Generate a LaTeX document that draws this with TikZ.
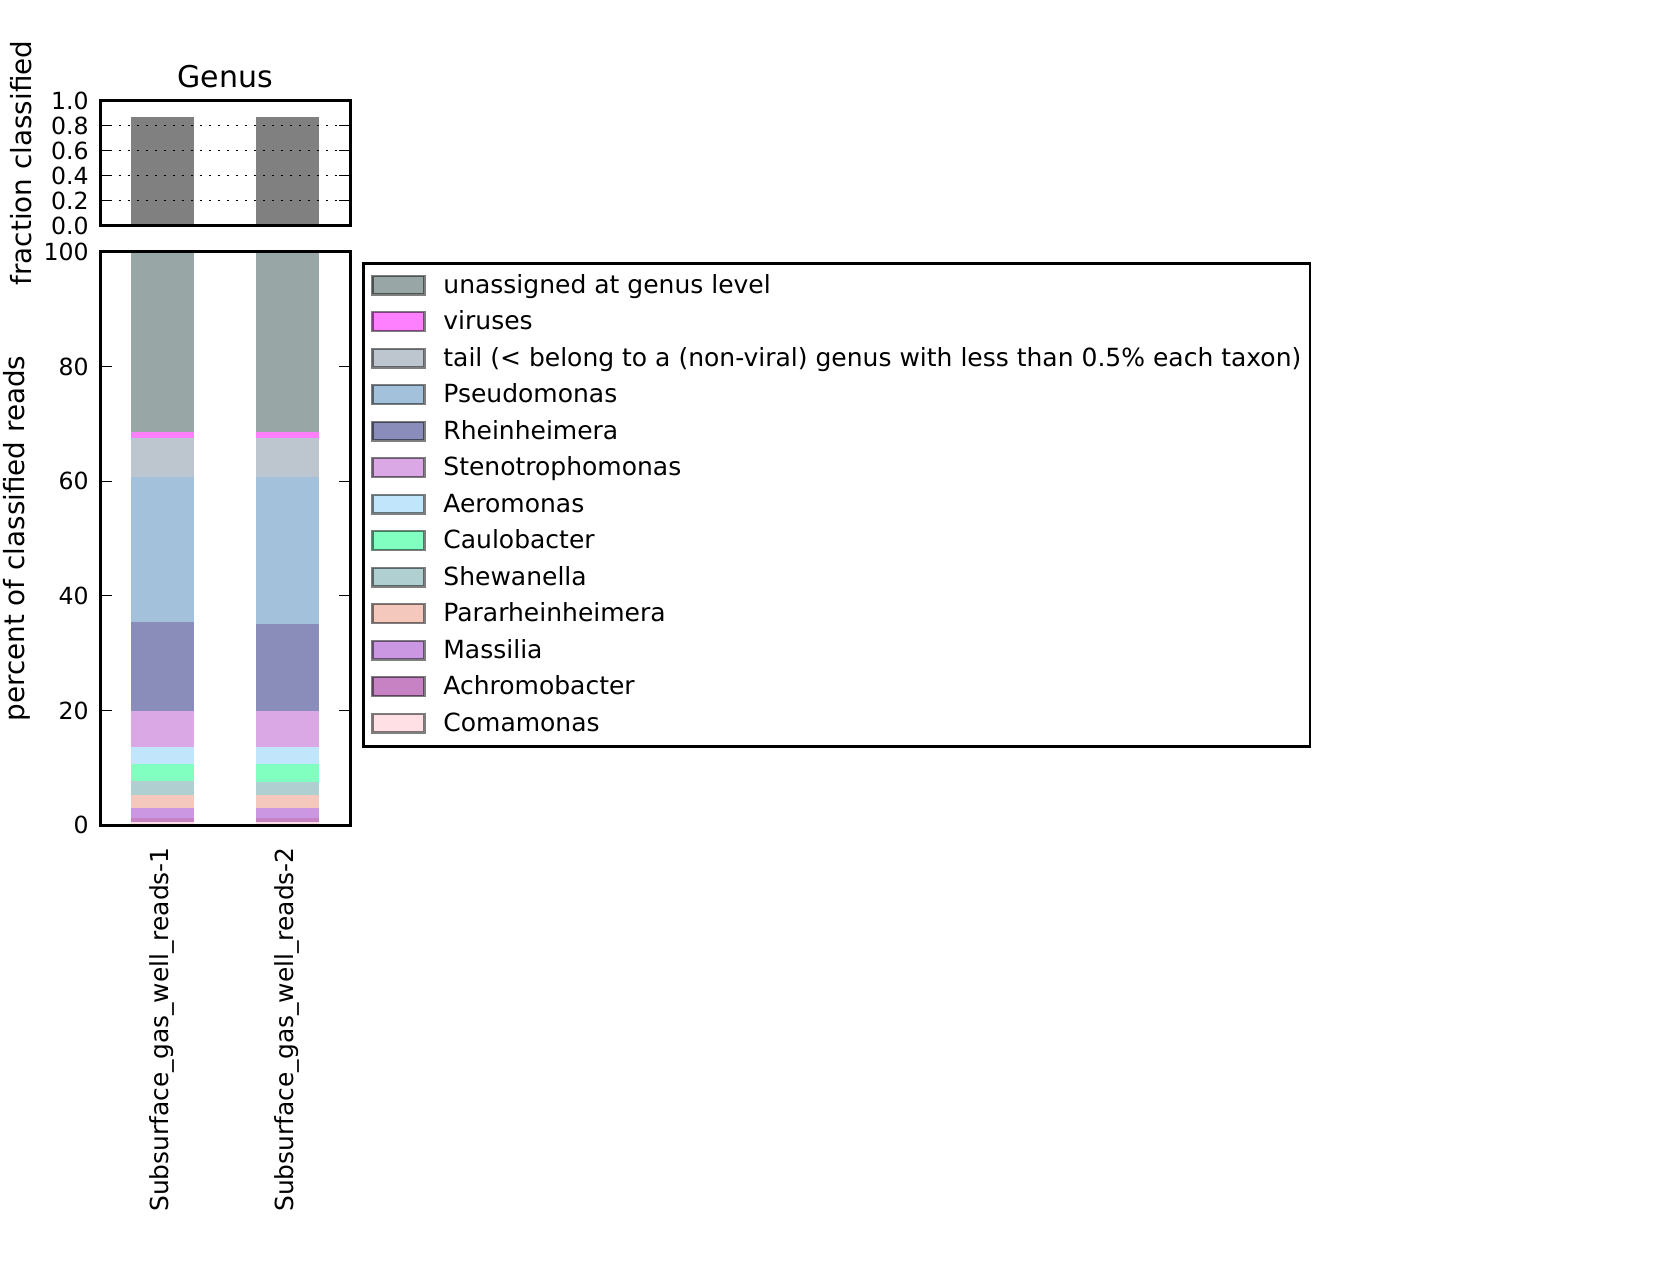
\documentclass[tikz,border=0pt]{standalone}
\usepackage{fontspec}
\setmainfont{DejaVu Sans}
\definecolor{cUnas}{HTML}{98A7A5}
\definecolor{cVir}{HTML}{FF80FF}
\definecolor{cTail}{HTML}{BDC5CF}
\definecolor{cPseudo}{HTML}{A4C1DB}
\definecolor{cRhein}{HTML}{8A8DB9}
\definecolor{cSteno}{HTML}{DBA8E6}
\definecolor{cAero}{HTML}{C1E5FA}
\definecolor{cCaulo}{HTML}{80FFC0}
\definecolor{cShew}{HTML}{AFCFD0}
\definecolor{cPara}{HTML}{F4C8BC}
\definecolor{cMass}{HTML}{CB97E3}
\definecolor{cAchro}{HTML}{C682C3}
\definecolor{cComa}{HTML}{FFE0E4}
\begin{document}
\begin{tikzpicture}[x=0.5pt,y=-0.5pt,line join=miter,
	frame/.style={line width=1.45pt},
	tick/.style={line width=0.5pt},
	gridline/.style={line width=0.5pt,dash pattern=on 1pt off 3.5pt},
	patch/.style={draw=black,draw opacity=0.5,line width=1.2pt},
	ticklab/.style={inner sep=0pt,font=\fontsize{11.8}{14}\selectfont},
	leglab/.style={inner sep=0pt,anchor=base west,font=\fontsize{12.5}{15}\selectfont},
	axlab/.style={inner sep=0pt,rotate=90,anchor=base,font=\fontsize{13.9}{17}\selectfont}]
	\useasboundingbox (0,0) rectangle (1657,1282);
	% fraction classified
	\begin{scope}[shift={(0,225.4)},y=62.45pt]
		\fill[gray] (131.2,0) rectangle (193.6,0.866);
		\fill[gray] (256,0) rectangle (318.5,0.866);
		\foreach \v in {0.2,0.4,0.6,0.8}{
			\draw[gridline] (100.5,\v) -- (350.2,\v);
			\draw[tick] (100.5,\v) -- ++(11,0);
			\draw[tick] (350.2,\v) -- ++(-11,0);
		}
		\foreach \v [count=\i] in {0.0,0.2,0.4,0.6,0.8,1.0}
			\node[ticklab,anchor=east] (ft\i) at (89,\v) {\v};
		\draw[frame] (100.5,0) rectangle (350.2,1);
	\end{scope}
	\node[inner sep=0pt,anchor=base,font=\fontsize{15}{18}\selectfont] (title) at (225.4,87.5) {Genus};
	\node[axlab] (fraclab) at (31.5,163) {fraction classified};
	% percent of classified reads
	\begin{scope}[shift={(0,825.3)},y=2.8675pt]
		\foreach \c/\a/\b/\p/\q in {cUnas/68.6/100/68.6/100, cVir/67.5/68.6/67.5/68.6,
			cTail/60.7/67.5/60.7/67.5, cPseudo/35.4/60.7/35.1/60.7, cRhein/20/35.4/20/35.1,
			cSteno/13.7/20/13.7/20, cAero/10.7/13.7/10.7/13.7, cCaulo/7.7/10.7/7.6/10.7,
			cShew/5.3/7.7/5.3/7.6, cPara/3.05/5.3/3.05/5.3, cMass/1.3/3.05/1.3/3.05,
			cAchro/0.6/1.3/0.6/1.3, cComa/0/0.6/0/0.6}{
			\fill[\c] (131.2,\a) rectangle (193.6,\b);
			\fill[\c] (256,\p) rectangle (318.5,\q);
		}
		\foreach \v in {20,40,60,80}{
			\draw[tick] (100.5,\v) -- ++(11,0);
			\draw[tick] (350.2,\v) -- ++(-11,0);
		}
		\foreach \v in {0,20,40,60,80,100}
			\node[ticklab,anchor=east] (pt\v) at (89,\v) {\v};
		\draw[frame] (100.5,0) rectangle (350.2,100);
	\end{scope}
	\node[axlab] (perclab) at (24.5,538.5) {percent of classified reads};
	\node[ticklab,rotate=90,anchor=east,font=\fontsize{12.45}{14}\selectfont] (s1) at (162.4,847) {Subsurface\_gas\_well\_reads-1};
	\node[ticklab,rotate=90,anchor=east,font=\fontsize{12.45}{14}\selectfont] (s2) at (287.3,847) {Subsurface\_gas\_well\_reads-2};
	% legend
	\draw[frame] (363.3,263.3) rectangle (1310,746.7);
	\foreach \c/\t [count=\i] in {cUnas/unassigned at genus level, cVir/viruses,
		cTail/tail (< belong to a (non-viral) genus with less than 0.5\% each taxon),
		cPseudo/Pseudomonas, cRhein/Rheinheimera, cSteno/Stenotrophomonas, cAero/Aeromonas,
		cCaulo/Caulobacter, cShew/Shewanella, cPara/Pararheinheimera, cMass/Massilia,
		cAchro/Achromobacter, cComa/Comamonas}{
		\pgfmathsetmacro{\ly}{285+36.5*(\i-1)}
		\draw[patch,fill=\c] (372.3,{\ly-9.3}) rectangle (424.3,{\ly+9.3});
		\node[leglab] (leg\i) at (443,{\ly+8.3}) {\t};
	}
\end{tikzpicture}
\end{document}
